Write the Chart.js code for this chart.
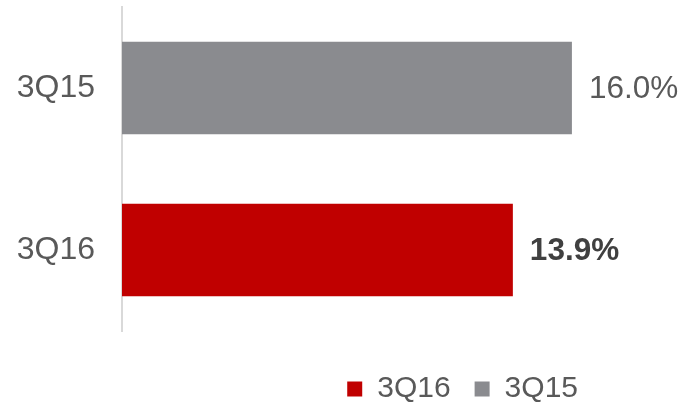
<!DOCTYPE html>
<html>
<head>
<meta charset="utf-8">
<script src="https://cdn.jsdelivr.net/npm/chart.js@4"></script>
<style>
  html, body { margin: 0; padding: 0; background: #fff; }
  #wrap { width: 691px; height: 403px; position: relative; }
</style>
</head>
<body>
<div id="wrap"><canvas id="roeChart"></canvas></div>
<script>
// Chart data
const categories = ['3Q15', '3Q16'];
const seriesNames = ['3Q16', '3Q15'];
const values3Q16 = [null, 13.9];
const values3Q15 = [16.0, null];

const RED = '#c00000';
const GRAY = '#8a8b8f';
const TEXT = '#595959';
const FONT = '"Liberation Sans", Arial, sans-serif';

// Value labels drawn next to each bar
const valueLabels = {
    id: 'valueLabels',
    afterDatasetsDraw(chart) {
        const ctx = chart.ctx;
        ctx.save();
        ctx.textBaseline = 'middle';
        ctx.textAlign = 'left';
        chart.data.datasets.forEach((ds, i) => {
            const meta = chart.getDatasetMeta(i);
            meta.data.forEach((bar, j) => {
                const v = ds.data[j];
                if (v === null || v === undefined) return;
                const bold = ds.label === '3Q16';
                ctx.font = (bold ? 'bold ' : '') + '31.5px ' + FONT;
                ctx.fillStyle = bold ? '#404040' : TEXT;
                ctx.fillText(v.toFixed(1) + '%', bar.x + 17, bar.y + 1);
            });
        });
        ctx.restore();
    }
};

// push the legend a bit lower without shrinking the plot
const legendShift = {
    id: 'legendShift',
    afterLayout(chart) {
        if (chart.legend) {
            chart.legend.top += 19;
            chart.legend.bottom += 19;
        }
    }
};

const ctx = document.getElementById('roeChart').getContext('2d');
new Chart(ctx, {
    type: 'bar',
    data: {
        labels: categories,
        datasets: [
            { label: seriesNames[0], data: values3Q16, backgroundColor: RED },
            { label: seriesNames[1], data: values3Q15, backgroundColor: GRAY }
        ]
    },
    options: {
        indexAxis: 'y',
        responsive: true,
        maintainAspectRatio: false,
        animation: false,
        layout: {
            padding: { top: 7, right: 89, bottom: 8, left: 0 }
        },
        datasets: {
            bar: {
                categoryPercentage: 1,
                barPercentage: 0.57,
                borderWidth: 0
            }
        },
        plugins: {
            legend: {
                position: 'bottom',
                align: 'end',
                labels: {
                    boxWidth: 15,
                    boxHeight: 15,
                    padding: 24,
                    color: TEXT,
                    font: { size: 30, family: FONT }
                }
            },
            tooltip: { enabled: false }
        },
        scales: {
            x: {
                display: false,
                min: 0,
                max: 17.07
            },
            y: {
                stacked: true,
                afterFit: function(scale) {
                    scale.width = 122;
                    scale.paddingTop = 0;
                    scale.paddingBottom = 0;
                },
                grid: { display: false, drawTicks: false },
                border: { display: true, color: '#d9d9d9', width: 2 },
                ticks: {
                    padding: 27,
                    color: TEXT,
                    font: { size: 32, family: FONT }
                }
            }
        }
    },
    plugins: [valueLabels, legendShift]
});
</script>
</body>
</html>
